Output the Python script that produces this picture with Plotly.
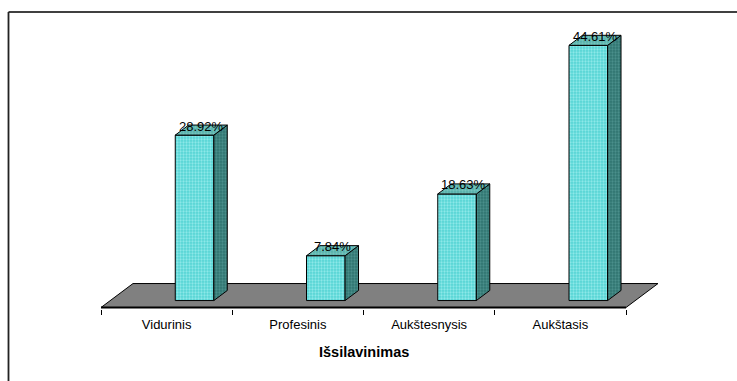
import plotly.graph_objects as go

# --- data -------------------------------------------------------------
categories = ["Vidurinis", "Profesinis", "Aukštesnysis", "Aukštasis"]
shares = [28.92, 7.84, 18.63, 44.61]
value_labels = ["28.92%", "7.84%", "18.63%", "44.61%"]
axis_title = "Išsilavinimas"

# --- page geometry (pixels) --------------------------------------------
W, H = 737, 381
PLOT_L, PLOT_R = 101, 666
PLOT_T, PLOT_B = 12, 309.5
FLOOR_PX = 308            # pixel row of the floor's front edge
PX_PER_CAT = 131.25
PX_PER_PCT = 5.73
FONT = "Liberation Sans, Arial, sans-serif"

n = len(categories)
x_range = [-0.5, -0.5 + (PLOT_R - PLOT_L) / PX_PER_CAT]
y_range = [-(PLOT_B - FLOOR_PX) / PX_PER_PCT, (FLOOR_PX - PLOT_T) / PX_PER_PCT]

# oblique depth of the floor in axis units, and where the bars sit in it
DX = 32 / PX_PER_CAT
DY = 24 / PX_PER_PCT
D_FRONT, D_BACK = 0.29, 0.71
BAR_SHIFT = 0.142
BAR_HALF = 0.147


def proj(x, v, d):
    """Oblique projection of (category x, value v, depth d) onto the axes."""
    return x + d * DX, v + d * DY


def poly(points, fill, pattern, line_color="black", line_width=1):
    xs, ys = zip(*[proj(*p) for p in points])
    xs = list(xs) + [xs[0]]
    ys = list(ys) + [ys[0]]
    return go.Scatter(
        x=xs, y=ys, mode="lines", fill="toself", fillcolor=fill,
        fillpattern=pattern,
        line=dict(color=line_color, width=line_width),
        hoverinfo="skip", showlegend=False,
    )


fig = go.Figure()

# floor
left, right = -0.5, n - 0.5
fig.add_trace(poly([(left, 0, 0), (right, 0, 0), (right, 0, 1), (left, 0, 1)],
                   "#808080", None, "black", 1))
fig.add_trace(go.Scatter(x=[left, right], y=[0, 0], mode="lines",
                         line=dict(color="black", width=2.2),
                         hoverinfo="skip", showlegend=False))

front_pat = dict(shape=".", bgcolor="#55d4d4", fgcolor="#c4fbfb", size=3, solidity=0.45)
side_pat = dict(shape=".", bgcolor="#2f7470", fgcolor="#66aaa5", size=3, solidity=0.45)
top_pat = dict(shape=".", bgcolor="#55b0aa", fgcolor="#98d8d2", size=3, solidity=0.45)

annotations = []
for i, (v, lab) in enumerate(zip(shares, value_labels)):
    xl = i + BAR_SHIFT - BAR_HALF
    xr = i + BAR_SHIFT + BAR_HALF
    d0, d1 = D_FRONT, D_BACK
    fig.add_trace(poly([(xl, 0, d0), (xr, 0, d0), (xr, v, d0), (xl, v, d0)],
                       "#80e4e4", front_pat))
    fig.add_trace(poly([(xr, 0, d0), (xr, 0, d1), (xr, v, d1), (xr, v, d0)],
                       "#438c88", side_pat))
    fig.add_trace(poly([(xl, v, d0), (xr, v, d0), (xr, v, d1), (xl, v, d1)],
                       "#70c2bc", top_pat))
    lx, ly = proj(i + BAR_SHIFT, v, 0.5)
    annotations.append(dict(x=lx, y=ly, text=lab, showarrow=False,
                            xanchor="center", yanchor="middle", yshift=4,
                            font=dict(family=FONT, size=13, color="black")))

# axis title below the category labels
annotations.append(dict(x=(n - 1) / 2, xref="x", y=(PLOT_B - 353) / (PLOT_B - PLOT_T),
                        yref="paper", text="<b>%s</b>" % axis_title, showarrow=False,
                        xanchor="center", yanchor="middle",
                        font=dict(family=FONT, size=14.5, color="black")))

# chart frame (top and left edges)
fx = (8.5 - PLOT_L) / (PLOT_R - PLOT_L)
shapes = [
    dict(type="line", xref="paper", yref="paper", x0=fx, x1=1.5, y0=1, y1=1,
         line=dict(color="black", width=1.6)),
    dict(type="line", xref="paper", yref="paper", x0=fx, x1=fx, y0=1, y1=-0.5,
         line=dict(color="#222222", width=1.8)),
]

fig.update_layout(
    width=W, height=H,
    margin=dict(l=PLOT_L, r=W - PLOT_R, t=PLOT_T, b=H - PLOT_B, pad=0),
    paper_bgcolor="white", plot_bgcolor="white",
    showlegend=False,
    annotations=annotations,
    shapes=shapes,
    xaxis=dict(
        range=x_range, showgrid=False, zeroline=False, showline=False,
        tickmode="array", tickvals=list(range(n)), ticktext=categories,
        ticks="", ticklabelstandoff=6,
        tickfont=dict(family=FONT, size=13, color="black"),
        minor=dict(tickmode="array", tickvals=[k - 0.5 for k in range(n + 1)],
                   ticks="outside", ticklen=5, tickcolor="black", tickwidth=1,
                   showgrid=False),
        fixedrange=True,
    ),
    yaxis=dict(range=y_range, visible=False, fixedrange=True),
)

fig.write_html("out.html")
